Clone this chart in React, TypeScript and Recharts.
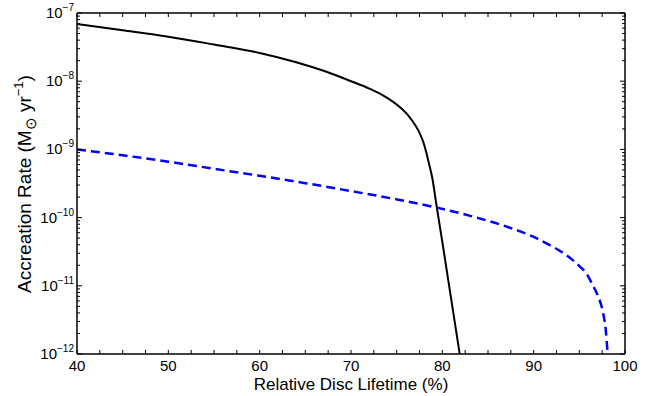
import React from 'react';
import { LineChart, Line, XAxis, YAxis } from 'recharts';

// Black solid curve: relative disc lifetime (%) vs accretion rate (Msun/yr)
const blackX = [40, 45, 50, 55, 60, 64, 67, 70, 72, 73.5, 74.5, 75.5, 76.3, 77, 77.5, 77.9, 78.2, 78.5, 78.9, 79.4, 80, 81, 81.9];
const blackY = [6.9e-8, 5.6e-8, 4.5e-8, 3.45e-8, 2.6e-8, 1.9e-8, 1.42e-8, 1.0e-8, 7.8e-9, 6.2e-9, 5.1e-9, 4.0e-9, 3.1e-9, 2.3e-9, 1.75e-9, 1.3e-9, 9.5e-10, 6.5e-10, 3.8e-10, 1.4e-10, 4.4e-11, 6e-12, 1e-12];

// Blue dashed curve
const blueX = [40, 45, 50, 55, 60, 65, 70, 75, 79.4, 84, 87, 90, 92, 93.6, 95, 95.8, 96.5, 97, 97.6, 97.9, 98.1];
const blueY = [1.0e-9, 8.2e-10, 6.6e-10, 5.2e-10, 4.1e-10, 3.2e-10, 2.45e-10, 1.85e-10, 1.4e-10, 9.8e-11, 7.4e-11, 5.2e-11, 3.8e-11, 2.8e-11, 1.95e-11, 1.5e-11, 1.0e-11, 7.3e-12, 4e-12, 2.2e-12, 1.0e-12];

const xTicks = [40, 42.5, 45, 47.5, 50, 52.5, 55, 57.5, 60, 62.5, 65, 67.5, 70, 72.5, 75, 77.5, 80, 82.5, 85, 87.5, 90, 92.5, 95, 97.5, 100];
const xLabels = [40, 50, 60, 70, 80, 90, 100];
const yDecades = [-12, -11, -10, -9, -8, -7];

const yTicks: number[] = [];
yDecades.forEach((d) => {
  if (d === -7) {
    yTicks.push(1e-7);
  } else {
    for (let m = 1; m <= 9; m++) yTicks.push(Number((m * Math.pow(10, d)).toPrecision(6)));
  }
});

const black = blackX.map((x, i) => ({ x, y: blackY[i] }));
const blue = blueX.map((x, i) => ({ x, y: blueY[i] }));

const FONT = '"Liberation Sans", Arial, Helvetica, sans-serif';

const isMajorLog = (v: number) => {
  const lg = Math.log10(v);
  return Math.abs(lg - Math.round(lg)) < 1e-6;
};

const XTickBottom = (props: any) => {
  const { x, y, payload } = props;
  const v = payload.value;
  const showLabel = xLabels.some((l) => Math.abs(l - v) < 1e-6);
  return (
    <g>
      <line x1={x} y1={y} x2={x} y2={y - 4} stroke="#000" strokeWidth={1} />
      {showLabel && (
        <text x={x} y={y + 17} textAnchor="middle" fontSize={15} fontFamily={FONT} fill="#000">
          {v}
        </text>
      )}
    </g>
  );
};

const XTickTop = (props: any) => {
  const { x, y } = props;
  return <line x1={x} y1={y} x2={x} y2={y + 4} stroke="#000" strokeWidth={1} />;
};

const YTickLeft = (props: any) => {
  const { x, y, payload } = props;
  const v = payload.value;
  const major = isMajorLog(v);
  const len = major ? 5 : 3;
  const exp = Math.round(Math.log10(v));
  return (
    <g>
      <line x1={x} y1={y} x2={x + len} y2={y} stroke="#000" strokeWidth={1} />
      {major && (
        <text x={x - 3} y={y + 5} textAnchor="end" fontSize={15} fontFamily={FONT} fill="#000">
          <tspan>10</tspan>
          <tspan dy={-7} fontSize={10}>{`\u2212${-exp}`}</tspan>
        </text>
      )}
    </g>
  );
};

const YTickRight = (props: any) => {
  const { x, y, payload } = props;
  const len = isMajorLog(payload.value) ? 5 : 3;
  return <line x1={x} y1={y} x2={x - len} y2={y} stroke="#000" strokeWidth={1} />;
};

const YLabel = () => (
  <text
    x={31}
    y={184}
    transform="rotate(-90 31 184)"
    textAnchor="middle"
    fontSize={19}
    fontFamily={FONT}
    fill="#000"
  >
    <tspan>Accreation Rate (M</tspan>
    <tspan dy={5} fontSize={15}>{'\u2299'}</tspan>
    <tspan dy={-5}> yr</tspan>
    <tspan dy={-8} fontSize={13}>{'\u22121'}</tspan>
    <tspan dy={8}>)</tspan>
  </text>
);

const XLabel = () => (
  <text x={351} y={390} textAnchor="middle" fontSize={17} fontFamily={FONT} fill="#000">
    Relative Disc Lifetime (%)
  </text>
);

export default function App() {
  const axisLine = { stroke: '#000', strokeWidth: 1.5 };
  return (
    <div style={{ position: 'absolute', left: 0, top: 0, background: '#fff' }}>
      <LineChart width={650} height={396} margin={{ top: 0, right: 0, bottom: 0, left: 0 }}>
        <XAxis
          xAxisId="b"
          type="number"
          dataKey="x"
          orientation="bottom"
          domain={[40, 100]}
          ticks={xTicks}
          interval={0}
          height={42}
          tickSize={0}
          tickMargin={0}
          tickLine={false}
          tick={<XTickBottom />}
          axisLine={axisLine}
          allowDataOverflow
          label={<XLabel />}
        />
        <XAxis
          xAxisId="t"
          type="number"
          dataKey="x"
          orientation="top"
          domain={[40, 100]}
          ticks={xTicks}
          interval={0}
          height={13}
          tickSize={0}
          tickMargin={0}
          tickLine={false}
          tick={<XTickTop />}
          axisLine={axisLine}
          allowDataOverflow
        />
        <YAxis
          yAxisId="l"
          type="number"
          dataKey="y"
          scale="log"
          domain={[1e-12, 1e-7]}
          ticks={yTicks}
          interval={0}
          width={77}
          tickSize={0}
          tickMargin={0}
          tickLine={false}
          tick={<YTickLeft />}
          axisLine={axisLine}
          allowDataOverflow
          label={<YLabel />}
        />
        <YAxis
          yAxisId="r"
          type="number"
          dataKey="y"
          orientation="right"
          scale="log"
          domain={[1e-12, 1e-7]}
          ticks={yTicks}
          interval={0}
          width={25}
          tickSize={0}
          tickMargin={0}
          tickLine={false}
          tick={<YTickRight />}
          axisLine={axisLine}
          allowDataOverflow
        />
        <Line
          xAxisId="b"
          yAxisId="l"
          data={blue}
          dataKey="y"
          type="monotoneX"
          stroke="#0000ff"
          strokeWidth={2.5}
          strokeDasharray="9 5"
          dot={false}
          activeDot={false}
          isAnimationActive={false}
        />
        <Line
          xAxisId="b"
          yAxisId="l"
          data={black}
          dataKey="y"
          type="monotoneX"
          stroke="#000"
          strokeWidth={2}
          dot={false}
          activeDot={false}
          isAnimationActive={false}
        />
        <Line
          xAxisId="t"
          yAxisId="r"
          data={black}
          dataKey="y"
          stroke="none"
          dot={false}
          activeDot={false}
          legendType="none"
          isAnimationActive={false}
        />
      </LineChart>
    </div>
  );
}
